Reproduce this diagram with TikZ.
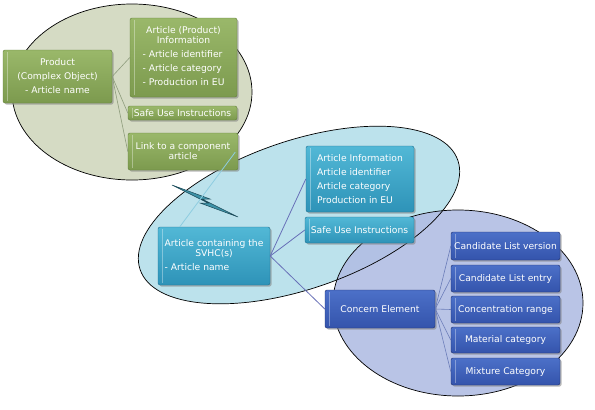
\documentclass[tikz,border=0pt]{standalone}
\usepackage{fontspec}
\newfontfamily\boxfont{DejaVu Sans}
\usetikzlibrary{shadows,calc}
\definecolor{gell}{HTML}{D5DBC4}
\definecolor{cell}{HTML}{BCE2EC}
\definecolor{pell}{HTML}{B2BEE4}
\definecolor{gtop}{HTML}{9AB86A}
\definecolor{gbot}{HTML}{7C9A4E}
\definecolor{gdark}{HTML}{62803A}
\definecolor{btop}{HTML}{52B8D6}
\definecolor{bbot}{HTML}{2E93B8}
\definecolor{bdark}{HTML}{1F7090}
\definecolor{ptop}{HTML}{4C70C8}
\definecolor{pbot}{HTML}{3454AC}
\definecolor{pdark}{HTML}{1E3070}
\definecolor{gline}{HTML}{8E9C7C}
\definecolor{bline}{HTML}{6870B8}
\definecolor{pline}{HTML}{6A7CB8}
\definecolor{lline}{HTML}{8ECDE0}
\definecolor{bolt}{HTML}{3E93A8}
\definecolor{boltdark}{HTML}{1C4A58}
\tikzset{
  box/.style={rounded corners=2pt, font=\boxfont\fontsize{9.2}{10}\selectfont,
    text=white, inner sep=1pt, align=center,
    drop shadow={opacity=0.55, shadow xshift=1.5pt, shadow yshift=-1.5pt},
    path picture={\draw[white, opacity=0.35, line width=0.8pt]
      ([xshift=4pt,yshift=-2pt]path picture bounding box.north west) --
      ([xshift=4pt,yshift=2pt]path picture bounding box.south west);}},
  gbox/.style={box, draw=gdark, top color=gtop, bottom color=gbot},
  bbox/.style={box, draw=bdark, top color=btop, bottom color=bbot},
  pbox/.style={box, draw=pdark, top color=ptop, bottom color=pbot},
  ell/.style={draw=black, line width=0.7pt},
  gcon/.style={draw=gline, line width=0.6pt},
  bcon/.style={draw=bline, line width=0.8pt},
  pcon/.style={draw=pline, line width=0.6pt},
}
\begin{document}
\begin{tikzpicture}[x=1pt,y=-1pt]
\useasboundingbox[fill=white] (0,0) rectangle (595,410);
% ellipses
\fill[gell] (132,92) ellipse [x radius=120, y radius=88];
\draw[ell] (132,92) ellipse [x radius=120, y radius=88];
\fill[cell, rotate around={19:(299,215)}] (299,215) ellipse [x radius=168, y radius=74];
\fill[pell, opacity=0.9] (458,303) ellipse [x radius=125, y radius=93];
\draw[ell, rotate around={19:(299,215)}] (299,215) ellipse [x radius=168, y radius=74];
\draw[ell] (458,303) ellipse [x radius=125, y radius=93];
% lightning
\filldraw[fill=bolt, draw=boltdark, line width=0.5pt]
  (172,185) -- (210,199) -- (202,199) -- (238,217) -- (200,203) -- (208,203) -- cycle;
% green group
\node[gbox, minimum width=109pt, minimum height=53pt] (product) at (57.5,76.5)
  {Product\\[4pt](Complex Object)\\[4pt]- Article name};
\node[gbox, minimum width=107pt, minimum height=79pt] (ginfo) at (183.5,57.5)
  {\begin{tabular}{@{}l@{}}\multicolumn{1}{@{}c@{}}{Article (Product)}\\
   \multicolumn{1}{@{}c@{}}{Information}\\[4pt]- Article identifier\\[4pt]
   - Article category\\[4pt]- Production in EU\end{tabular}};
\node[gbox, minimum width=109pt, minimum height=14pt, inner sep=0pt] (gsafe) at (182.5,113)
  {Safe Use Instructions};
\node[gbox, minimum width=110pt, minimum height=37pt] (glink) at (183,151.5)
  {Link to a component\\article};
% blue group
\node[bbox, minimum width=112pt, minimum height=58pt] (svhc) at (214,256)
  {\begin{tabular}{@{}l@{}}\multicolumn{1}{@{}c@{}}{Article containing the}\\
   \multicolumn{1}{@{}c@{}}{SVHC(s)}\\[4pt]- Article name\end{tabular}};
\node[bbox, minimum width=108pt, minimum height=66pt, align=left] (binfo) at (360,179)
  {Article Information\\[4pt]Article identifier\\[4pt]Article category\\[4pt]Production in EU};
\node[bbox, minimum width=109pt, minimum height=26pt] (bsafe) at (359.5,230)
  {Safe Use Instructions};
% purple group
\node[pbox, minimum width=110pt, minimum height=38pt] (concern) at (380,309) {Concern Element};
\node[pbox, minimum width=109pt, minimum height=28pt, inner sep=0pt] (c1) at (505.5,246) {Candidate List version};
\node[pbox, minimum width=109pt, minimum height=27pt] (c2) at (505.5,278.5) {Candidate List entry};
\node[pbox, minimum width=109pt, minimum height=27pt] (c3) at (505.5,309.5) {Concentration range};
\node[pbox, minimum width=109pt, minimum height=26pt] (c4) at (505.5,340) {Material category};
\node[pbox, minimum width=109pt, minimum height=27pt] (c5) at (505.5,371.5) {Mixture Category};
% connectors
\draw[gcon] (product.east) -- (ginfo.west);
\draw[gcon] (product.east) -- (gsafe.west);
\draw[gcon] (product.east) -- (glink.west);
\draw[lline, line width=0.8pt] ($(glink.south east)+(-3pt,18pt)$) -- ($(svhc.north west)+(22pt,0)$);
\draw[bcon] (svhc.east) -- (binfo.west);
\draw[bcon] (svhc.east) -- (bsafe.west);
\draw[bcon] (svhc.east) -- (concern.west);
\foreach \c in {c1,c2,c3,c4,c5} \draw[pcon] (concern.east) -- (\c.west);
\end{tikzpicture}
\end{document}
